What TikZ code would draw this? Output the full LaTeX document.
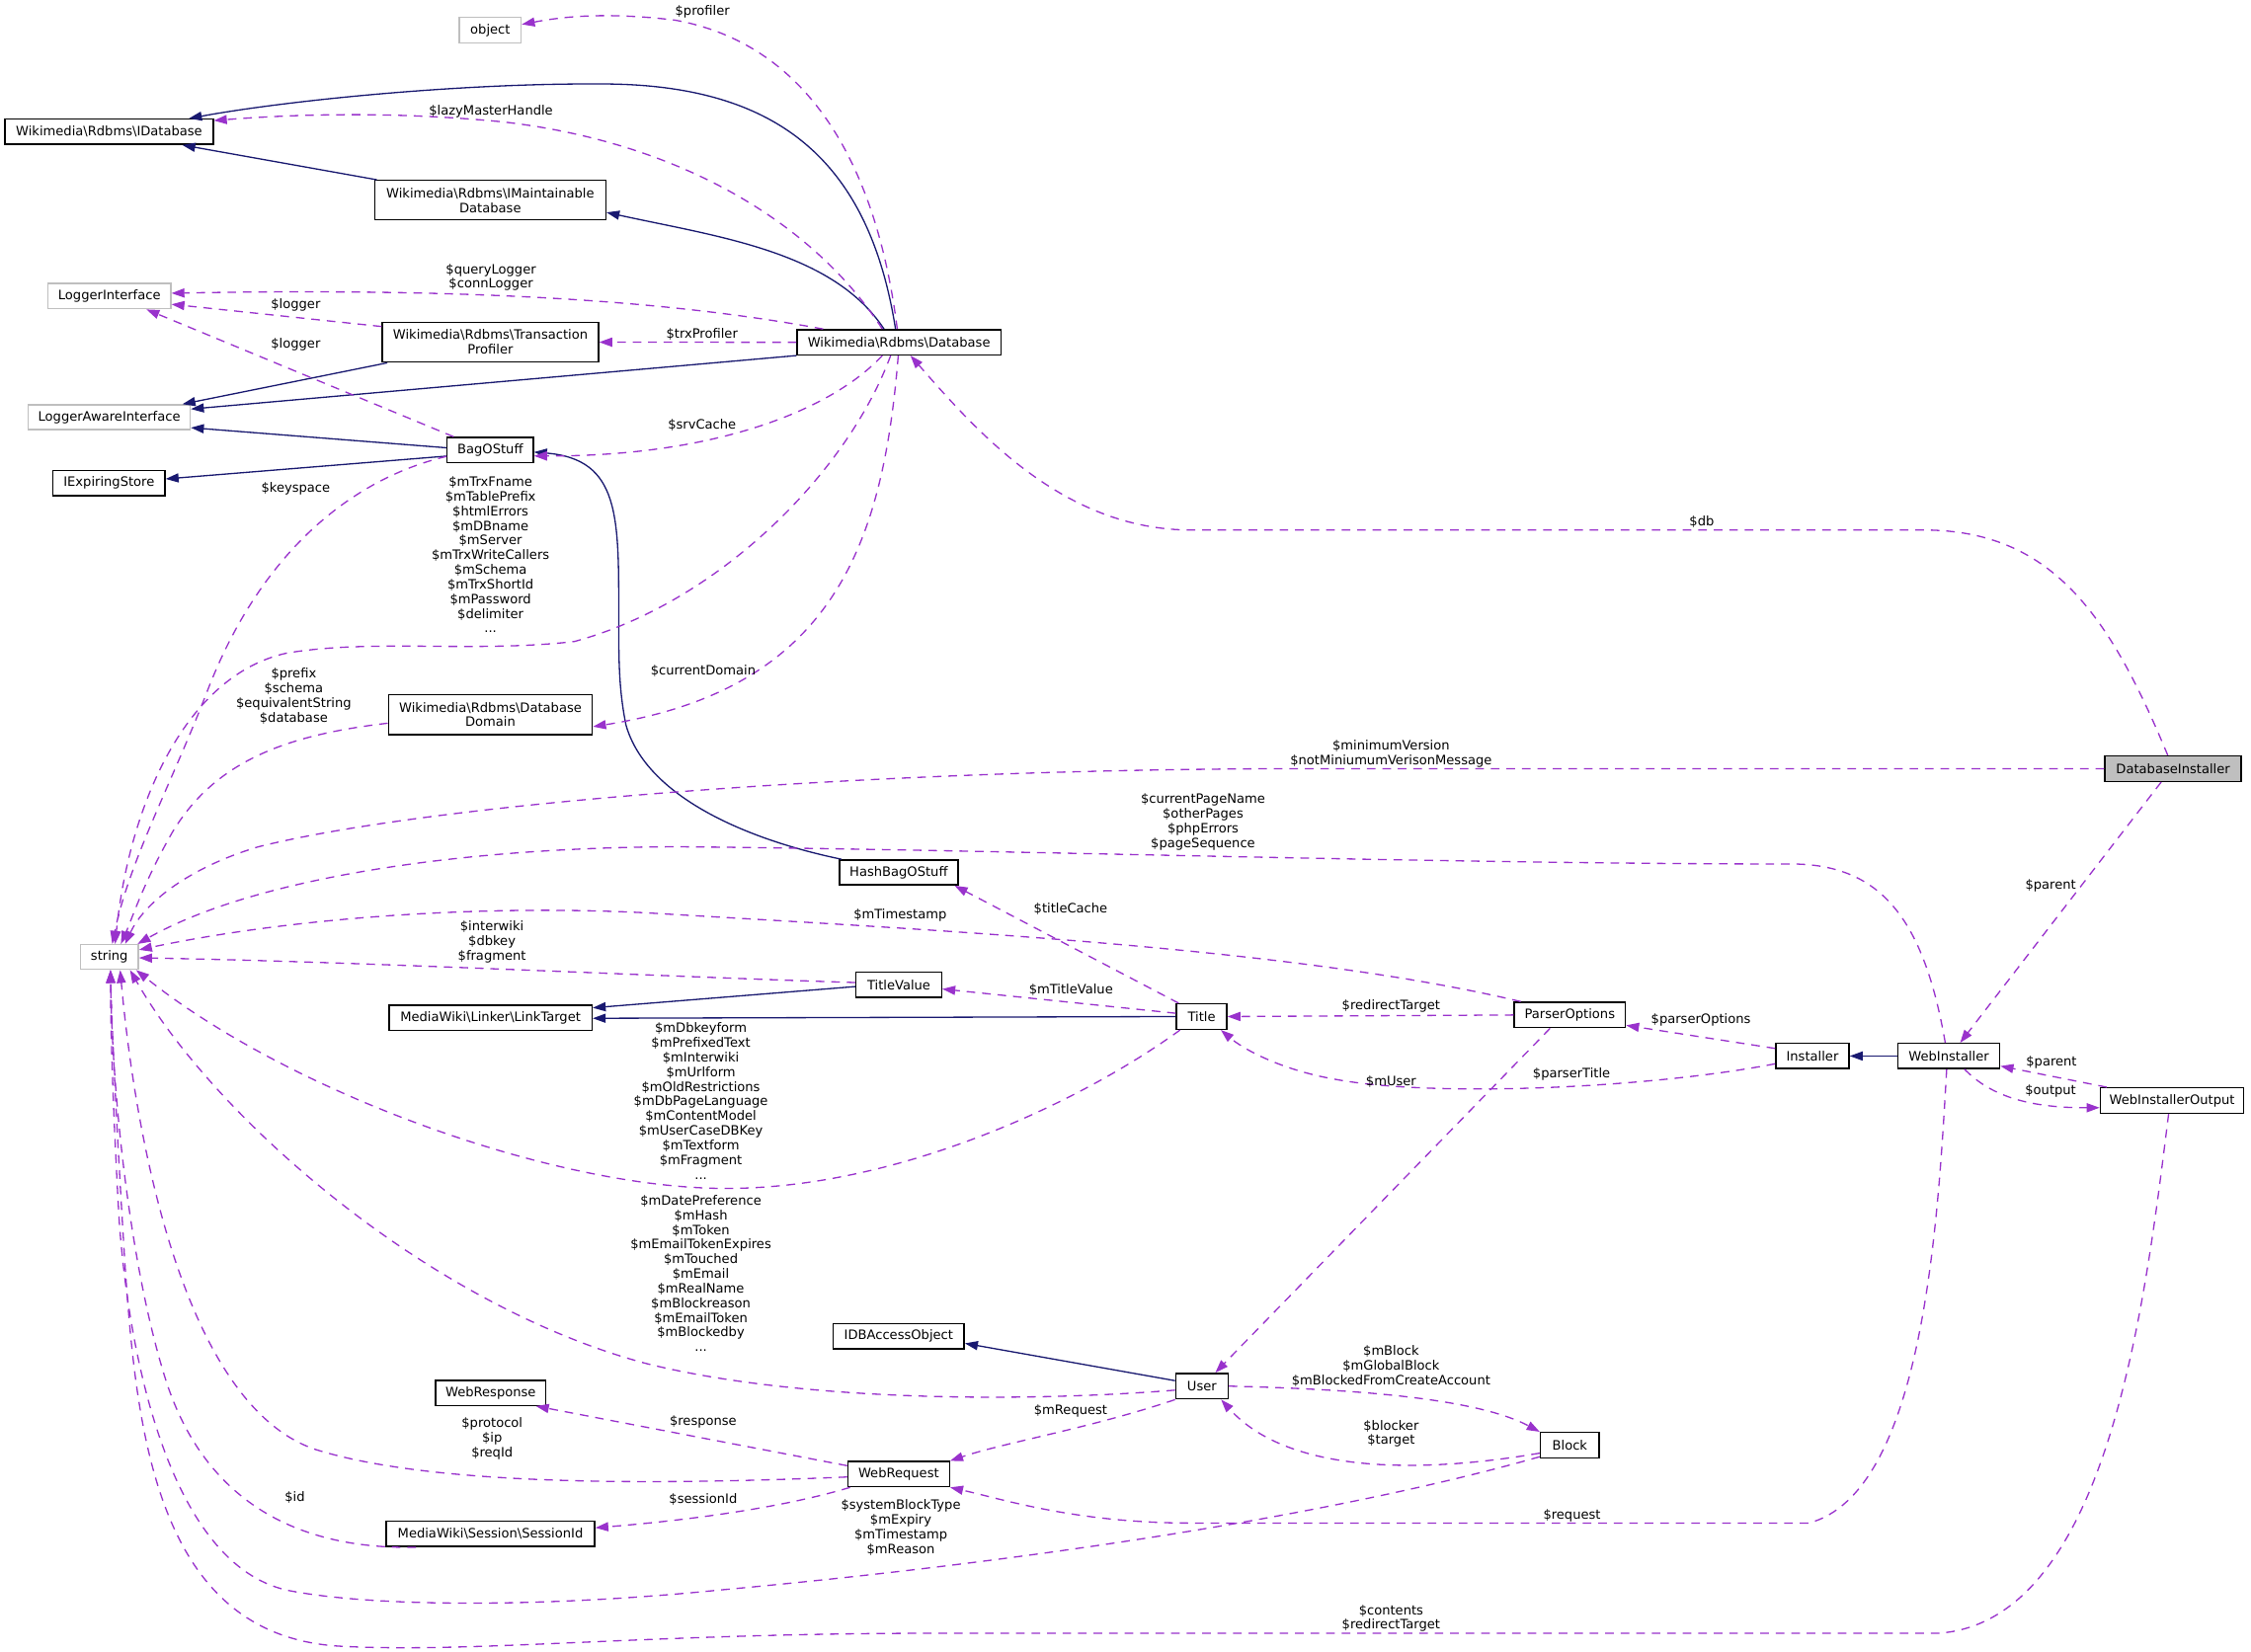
\documentclass[tikz,border=0pt]{standalone}
\usepackage{fontspec}
\setmainfont{DejaVu Sans}
\usetikzlibrary{arrows.meta}
\definecolor{midblue}{HTML}{191970}
\definecolor{orchid}{HTML}{9932CC}
\definecolor{lgray}{HTML}{BFBFBF}
\newcommand{\dfont}{\fontsize{9}{10.2}\selectfont}
\newcommand{\bs}{\textbackslash{}}
\begin{document}
\begin{tikzpicture}[x=1pt,y=-1pt,
  cbox/.style={draw=black, line width=1pt, inner sep=0pt, align=center, font=\dfont, fill=white},
  graybox/.style={cbox, draw=lgray},
  inhedge/.style={draw=midblue, line width=0.9pt, -{Triangle[length=9pt,width=6.3pt]}},
  memedge/.style={draw=orchid, line width=0.9pt, dash pattern=on 6pt off 4.8pt, -{Triangle[length=9pt,width=6.3pt]}},
  elabel/.style={font=\dfont, align=center, inner sep=0pt}]
\useasboundingbox[fill=white] (0,0) rectangle (1568,1151);

% ---------------- nodes ----------------
\node[graybox, minimum width=43pt, minimum height=18pt] (obj) at (341.5,21) {object};
\node[cbox, minimum width=145pt, minimum height=17.5pt] (idb) at (76,91.8) {Wikimedia\bs Rdbms\bs IDatabase};
\node[cbox, minimum width=161pt, minimum height=27.5pt] (imaint) at (341.5,139.5) {Wikimedia\bs Rdbms\bs IMaintainable\\Database};
\node[graybox, minimum width=85.5pt, minimum height=17.6pt] (li) at (76.2,206.3) {LoggerInterface};
\node[cbox, minimum width=150.6pt, minimum height=27.8pt] (tprof) at (341.6,238.4) {Wikimedia\bs Rdbms\bs Transaction\\Profiler};
\node[cbox, minimum width=142pt, minimum height=17.5pt] (db) at (626.2,238.5) {Wikimedia\bs Rdbms\bs Database};
\node[graybox, minimum width=112.8pt, minimum height=17.2pt] (lai) at (76.1,290.7) {LoggerAwareInterface};
\node[cbox, minimum width=60pt, minimum height=17.4pt] (bag) at (341.5,313.5) {BagOStuff};
\node[cbox, minimum width=78pt, minimum height=17.6pt] (ies) at (75.9,336.5) {IExpiringStore};
\node[cbox, minimum width=142pt, minimum height=28pt] (ddom) at (341.6,497.9) {Wikimedia\bs Rdbms\bs Database\\Domain};
\node[cbox, fill=lgray, minimum width=95pt, minimum height=17.7pt] (dbi) at (1513.7,535.6) {DatabaseInstaller};
\node[cbox, minimum width=82.6pt, minimum height=17.4pt] (hash) at (626,607.9) {HashBagOStuff};
\node[graybox, minimum width=40.3pt, minimum height=17.2pt] (str) at (76.2,666.8) {string};
\node[cbox, minimum width=59.6pt, minimum height=17.6pt] (tv) at (626.1,686.1) {TitleValue};
\node[cbox, minimum width=141.4pt, minimum height=17.5pt] (lt) at (341.7,709.2) {MediaWiki\bs Linker\bs LinkTarget};
\node[cbox, minimum width=35pt, minimum height=17.7pt] (title) at (837,708.3) {Title};
\node[cbox, minimum width=77.4pt, minimum height=17.7pt] (po) at (1093.5,707.2) {ParserOptions};
\node[cbox, minimum width=51pt, minimum height=17.5pt] (inst) at (1262.5,735.8) {Installer};
\node[cbox, minimum width=71pt, minimum height=17.5pt] (wi) at (1357.5,735.8) {WebInstaller};
\node[cbox, minimum width=100pt, minimum height=17.6pt] (wio) at (1513,766.8) {WebInstallerOutput};
\node[cbox, minimum width=91.3pt, minimum height=17.5pt] (idbao) at (626,931) {IDBAccessObject};
\node[cbox, minimum width=36.4pt, minimum height=17.8pt] (user) at (837.2,965.8) {User};
\node[cbox, minimum width=77pt, minimum height=17.4pt] (wresp) at (341.8,970.5) {WebResponse};
\node[cbox, minimum width=41pt, minimum height=17.8pt] (block) at (1093.5,1007) {Block};
\node[cbox, minimum width=70.7pt, minimum height=17.5pt] (wr) at (626,1027.1) {WebRequest};
\node[cbox, minimum width=145.3pt, minimum height=17.5pt] (sid) at (341.6,1068.8) {MediaWiki\bs Session\bs SessionId};

% ---------------- inheritance edges ----------------
\draw[inhedge] ([xshift=-2.4pt]db.north) .. controls (605,110) and (540,58) .. (417,58.5) .. controls (320,58) and (200,70) .. ([xshift=55.6pt]idb.north);
\draw[inhedge] ([xshift=2pt]imaint.north west) -- ([xshift=51pt]idb.south);
\draw[inhedge] ([xshift=-10.4pt]db.north) .. controls (580,175) and (500,165) .. ([yshift=-8.5pt]imaint.east);
\draw[inhedge] ([xshift=4pt]tprof.south west) -- ([xshift=51pt]lai.north);
\draw[inhedge] (db.south west) -- ([yshift=5.7pt]lai.east);
\draw[inhedge] ([yshift=1.5pt]bag.west) -- ([yshift=-7.3pt]lai.east);
\draw[inhedge] ([yshift=-4.3pt]bag.west) -- ([yshift=2.8pt]ies.east);
\draw[inhedge] ([xshift=2pt]hash.north west) .. controls (520,585) and (450,555) .. (436,505) .. controls (431,480) and (431,460) .. (431,430) .. controls (431,360) and (432,320) .. ([yshift=-1.5pt]bag.east);
\draw[inhedge] ([yshift=-1.3pt]tv.west) -- ([yshift=7pt]lt.east);
\draw[inhedge] (title.west) -- ([yshift=-0.3pt]lt.east);
\draw[inhedge] ([yshift=3.8pt]user.west) -- ([yshift=-5pt]idbao.east);
\draw[inhedge] (wi.west) -- (inst.east);

% ---------------- member edges ----------------
\draw[memedge] ([xshift=-1.2pt]db.north) .. controls (610,110) and (560,30) .. (470,14) .. controls (420,8) and (390,12) .. ([yshift=4pt]obj.east);
\draw[memedge] ([xshift=-11.6pt]db.north) .. controls (570,160) and (480,100) .. (351,85) .. controls (270,77) and (200,80) .. ([yshift=7.8pt]idb.east);
\draw[memedge] ([xshift=-52.8pt]db.north) .. controls (480,212) and (350,200) .. ([yshift=2pt]li.east);
\draw[memedge] ([yshift=-3.5pt]tprof.north west) -- ([yshift=-5.7pt]li.east);
\draw[memedge] ([xshift=-25.5pt]bag.north) -- ([xshift=25.8pt]li.south);
\draw[memedge] (db.west) -- (tprof.east);
\draw[memedge] ([xshift=-11.6pt]db.south) .. controls (580,285) and (500,318) .. ([yshift=-4.2pt]bag.east);
\draw[memedge] ([yshift=-4.5pt]bag.west) .. controls (240,335) and (180,390) .. (145,480) .. controls (120,545) and (90,600) .. ([xshift=2pt]str.north);
\draw[memedge] ([xshift=-5.8pt]db.south) .. controls (590,330) and (500,420) .. (400,447) .. controls (330,455) and (260,445) .. (200,455) .. controls (130,470) and (90,560) .. ([xshift=4pt]str.north);
\draw[memedge] ([yshift=-6pt]ddom.west) .. controls (200,512) and (150,530) .. (120,580) .. controls (100,615) and (92,640) .. ([xshift=8pt]str.north);
\draw[memedge] ([xshift=-0.5pt]db.south) .. controls (615,380) and (580,480) .. ([yshift=-8.4pt]ddom.east);
\draw[memedge] ([xshift=-3.7pt]dbi.north) .. controls (1470,430) and (1430,369.3) .. (1340,369.3) -- (830,369.3) .. controls (740,369.3) and (680,300) .. ([xshift=8pt]db.south);
\draw[memedge] (dbi.west) -- (900,535.6) .. controls (600,536) and (300,560) .. (180,590) .. controls (130,605) and (100,630) .. ([xshift=11pt]str.north);
\draw[memedge] ([xshift=-8.3pt]dbi.south) -- ([xshift=7.9pt]wi.north);
\draw[memedge] ([xshift=-2.5pt]wi.north) .. controls (1340,640) and (1310,603) .. (1250,602) .. controls (1000,602) and (700,592) .. (474,590) .. controls (330,590) and (180,610) .. ([xshift=-1pt]str.north east);
\draw[memedge] ([xshift=-16pt]title.north) -- ([xshift=39pt]hash.south);
\draw[memedge] ([xshift=5pt]po.north west) .. controls (900,660) and (650,648) .. (450,636) .. controls (330,630) and (200,640) .. ([yshift=5pt]str.east);
\draw[memedge] ([yshift=1.5pt]tv.west) .. controls (450,680) and (250,670) .. ([yshift=-0.6pt]str.east);
\draw[memedge] ([yshift=2.3pt]title.west) -- ([yshift=-3pt]tv.east);
\draw[memedge] ([xshift=-15pt]title.south) .. controls (750,770) and (620,830) .. (500,828) .. controls (380,826) and (200,760) .. ([xshift=-2pt]str.south east);
\draw[memedge] (po.west) -- (title.east);
\draw[memedge] ([yshift=5.3pt]inst.west) -- ([yshift=-7.2pt]po.east);
\draw[memedge] ([yshift=-5.4pt]inst.west) .. controls (1150,758) and (1000,765) .. (930,752) .. controls (890,745) and (865,730) .. ([xshift=13.4pt]title.south);
\draw[memedge] ([xshift=-13.8pt]po.south) -- ([xshift=9.4pt]user.north);
\draw[memedge] ([xshift=11pt]wi.south) .. controls (1385,762) and (1410,772) .. ([yshift=-5pt]wio.west);
\draw[memedge] ([xshift=5pt]wio.north west) -- ([yshift=-7pt]wi.east);
\draw[memedge] ([xshift=-1.5pt]wi.south) .. controls (1350,850) and (1340,1040) .. (1260,1061.2) -- (830,1061.2) .. controls (750,1061.2) and (700,1045) .. (wr.south east);
\draw[memedge] ([xshift=-2.4pt]wio.south) .. controls (1495,900) and (1470,1130) .. (1350,1138) -- (650,1138) .. controls (450,1138) and (330,1152) .. (237,1147) .. controls (110,1140) and (95,1000) .. (87,880) .. controls (82,800) and (78,720) .. ([xshift=0.8pt]str.south);
\draw[memedge] ([yshift=-8pt]block.west) .. controls (950,1050) and (750,1085) .. (500,1108) .. controls (380,1120) and (260,1120) .. (200,1108) .. controls (120,1090) and (90,950) .. (83,850) .. controls (79,780) and (77,720) .. ([xshift=0.8pt]str.south);
\draw[memedge] (user.east) .. controls (950,968) and (1030,975) .. (block.north west);
\draw[memedge] ([yshift=-5.5pt]block.west) .. controls (1000,1025) and (900,1030) .. ([xshift=13.4pt]user.south);
\draw[memedge] (user.south west) .. controls (760,995) and (700,1005) .. (wr.north east);
\draw[memedge] ([yshift=-2.8pt]user.west) .. controls (700,978) and (550,975) .. (450,950) .. controls (300,910) and (150,780) .. ([xshift=14.4pt]str.south);
\draw[memedge] ([yshift=-3.4pt]wr.north west) -- ([xshift=31.5pt]wresp.south);
\draw[memedge] ([yshift=-2pt]wr.west) .. controls (450,1035) and (300,1035) .. (220,1010) .. controls (130,980) and (95,800) .. ([xshift=7.5pt]str.south);
\draw[memedge] ([xshift=2pt]wr.south west) .. controls (540,1052) and (470,1060) .. ([yshift=4.3pt]sid.east);
\draw[memedge] ([xshift=21.3pt]sid.south west) .. controls (200,1080) and (140,1040) .. (115,960) .. controls (90,880) and (78,760) .. ([xshift=0.8pt]str.south);

% ---------------- labels ----------------
\node[elabel] (l1) at (489.3,8) {\$profiler};
\node[elabel] (l2) at (342,77.5) {\$lazyMasterHandle};
\node[elabel] (l3) at (342,193.2) {\$queryLogger\\\$connLogger};
\node[elabel] (l4) at (206,212.2) {\$logger};
\node[elabel] (l5) at (206,239.7) {\$logger};
\node[elabel] (l6) at (489,232.8) {\$trxProfiler};
\node[elabel] (l7) at (489,296.3) {\$srvCache};
\node[elabel] (l8) at (206,340.6) {\$keyspace};
\node[elabel] (l9) at (341.7,386.5) {\$mTrxFname\\\$mTablePrefix\\\$htmlErrors\\\$mDBname\\\$mServer\\\$mTrxWriteCallers\\\$mSchema\\\$mTrxShortId\\\$mPassword\\\$delimiter\\...};
\node[elabel] (l10) at (204.6,485) {\$prefix\\\$schema\\\$equivalentString\\\$database};
\node[elabel] (l11) at (489.8,467.7) {\$currentDomain};
\node[elabel] (l12) at (1185.4,363.5) {\$db};
\node[elabel] (l13) at (969,525.2) {\$minimumVersion\\\$notMiniumumVerisonMessage};
\node[elabel] (l14) at (1428.4,617) {\$parent};
\node[elabel] (l15) at (838,572.7) {\$currentPageName\\\$otherPages\\\$phpErrors\\\$pageSequence};
\node[elabel] (l16) at (745.8,633) {\$titleCache};
\node[elabel] (l17) at (627,638) {\$mTimestamp};
\node[elabel] (l18) at (342.7,656.5) {\$interwiki\\\$dbkey\\\$fragment};
\node[elabel] (l19) at (746,689.4) {\$mTitleValue};
\node[elabel] (l20) at (969,701.3) {\$redirectTarget};
\node[elabel] (l21) at (1184.8,710.5) {\$parserOptions};
\node[elabel] (l22) at (1094.7,748.8) {\$parserTitle};
\node[elabel] (l23) at (969,753.9) {\$mUser};
\node[elabel] (l24) at (1429,740.3) {\$parent};
\node[elabel] (l25) at (1428.4,760.3) {\$output};
\node[elabel] (l26) at (488.2,767.1) {\$mDbkeyform\\\$mPrefixedText\\\$mInterwiki\\\$mUrlform\\\$mOldRestrictions\\\$mDbPageLanguage\\\$mContentModel\\\$mUserCaseDBKey\\\$mTextform\\\$mFragment\\...};
\node[elabel] (l27) at (488.2,887.3) {\$mDatePreference\\\$mHash\\\$mToken\\\$mEmailTokenExpires\\\$mTouched\\\$mEmail\\\$mRealName\\\$mBlockreason\\\$mEmailToken\\\$mBlockedby\\...};
\node[elabel] (l28) at (969,951.7) {\$mBlock\\\$mGlobalBlock\\\$mBlockedFromCreateAccount};
\node[elabel] (l29) at (969,998.9) {\$blocker\\\$target};
\node[elabel] (l30) at (745.8,983) {\$mRequest};
\node[elabel] (l31) at (489.8,990.8) {\$response};
\node[elabel] (l32) at (342.8,1002.3) {\$protocol\\\$ip\\\$reqId};
\node[elabel] (l33) at (489.8,1044.8) {\$sessionId};
\node[elabel] (l34) at (205.4,1043.3) {\$id};
\node[elabel] (l35) at (627.5,1064.4) {\$systemBlockType\\\$mExpiry\\\$mTimestamp\\\$mReason};
\node[elabel] (l36) at (1095,1056.2) {\$request};
\node[elabel] (l37) at (969,1127.6) {\$contents\\\$redirectTarget};
\end{tikzpicture}
\end{document}
